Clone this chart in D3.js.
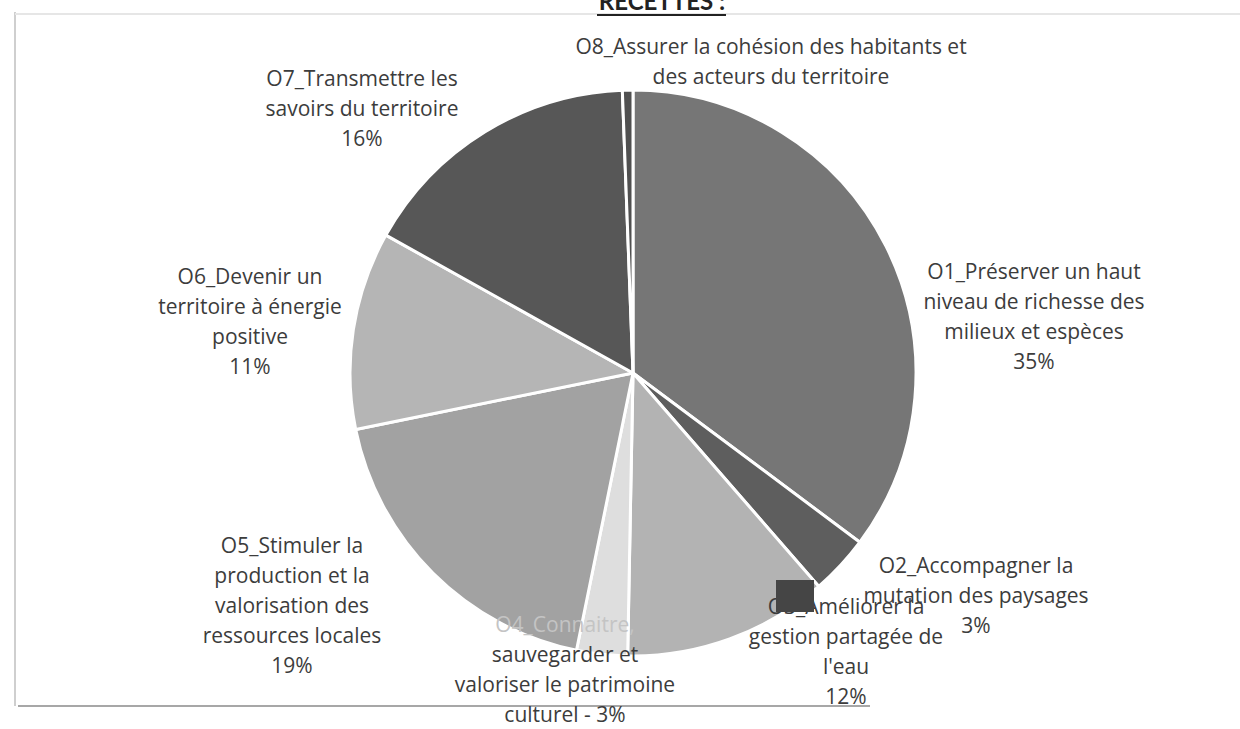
<!DOCTYPE html>
<html>
<head>
<meta charset="utf-8">
<style>
	body { margin: 0; background: #fff; }
	.lbl { font-family: "Open Sans", Lato, sans-serif; font-size: 21px; fill: #3c3c3c; }
</style>
</head>
<body>
<script src="https://cdn.jsdelivr.net/npm/d3@7"></script>
<script>

// Slices (clockwise from 12 o'clock)
var categories = ["O1", "O2", "O3", "O4", "O5", "O6", "O7", "O8"];
var shares = [35.2, 3.4, 11.7, 2.9, 18.6, 11.3, 16.3, 0.6];
var labelLines = [
	["O1_Préserver un haut", "niveau de richesse des", "milieux et espèces", "35%"],
	["O2_Accompagner la", "mutation des paysages", "3%"],
	["O3_Améliorer la", "gestion partagée de", "l'eau", "12%"],
	["O4_Connaitre,", "sauvegarder et", "valoriser le patrimoine", "culturel - 3%"],
	["O5_Stimuler la", "production et la", "valorisation des", "ressources locales", "19%"],
	["O6_Devenir un", "territoire à énergie", "positive", "11%"],
	["O7_Transmettre les", "savoirs du territoire", "16%"],
	["O8_Assurer la cohésion des habitants et", "des acteurs du territoire"]
];
var colors = ["#767676", "#5e5e5e", "#b3b3b3", "#dedede", "#a2a2a2", "#b5b5b5", "#575757", "#505050"];

var W = 1240, H = 729;
var cx = 633, cy = 373, radius = 283;

var svg = d3.select("body").append("svg")
	.attr("width", W)
	.attr("height", H);

// scan frame leftovers
svg.append("line").attr("x1", 15).attr("y1", 12).attr("x2", 15).attr("y2", 706)
	.attr("stroke", "#cfcfcf").attr("stroke-width", 2);
svg.append("line").attr("x1", 15).attr("y1", 14).attr("x2", 1240).attr("y2", 14)
	.attr("stroke", "#e6e6e6").attr("stroke-width", 2);
svg.append("line").attr("x1", 18).attr("y1", 706).attr("x2", 870).attr("y2", 706)
	.attr("stroke", "#8a8a8a").attr("stroke-width", 1.5);

// title, cut by the scan
svg.append("text")
	.attr("x", 662).attr("y", 10)
	.attr("text-anchor", "middle")
	.style("font-family", "Lato, sans-serif")
	.style("font-weight", "bold")
	.style("font-size", "24px")
	.style("fill", "#222")
	.text("RECETTES :");
svg.append("line").attr("x1", 597).attr("y1", 15).attr("x2", 726).attr("y2", 15)
	.attr("stroke", "#222").attr("stroke-width", 2);

// label layout (line centre x, first line y)
var labelPos = [
	[1034, 272], [976, 566], [846, 607], [565, 625],
	[292, 546], [250, 277], [362, 79], [771, 47]
];
var lineH = 30;

var pie = d3.pie().sort(null).value(function(d) { return d; });
var arc = d3.arc().innerRadius(0).outerRadius(radius);

var g = svg.append("g").attr("transform", "translate(" + cx + "," + cy + ")");

g.selectAll("path")
	.data(pie(shares))
	.enter().append("path")
	.attr("d", arc)
	.attr("fill", function(d, i) { return colors[i]; })
	.attr("stroke", "#fff")
	.attr("stroke-width", 3)
	.attr("stroke-linejoin", "round");

var labelG = svg.append("g");
labelLines.forEach(function(lines, i) {
	var t = labelG.append("text")
		.attr("class", "lbl")
		.attr("text-anchor", "middle");
	lines.forEach(function(s, j) {
		t.append("tspan")
			.attr("x", labelPos[i][0])
			.attr("y", labelPos[i][1] + j * lineH)
			.attr("dy", "0.35em")
			.style("fill", (i === 3 && j === 0) ? "#c4c4c4" : null)
			.text(s);
	});
});

// dark legend-key square left over on the scan
labelG.append("rect")
	.attr("x", 776).attr("y", 580)
	.attr("width", 38).attr("height", 32)
	.attr("fill", "#454545");

</script>
</body>
</html>
